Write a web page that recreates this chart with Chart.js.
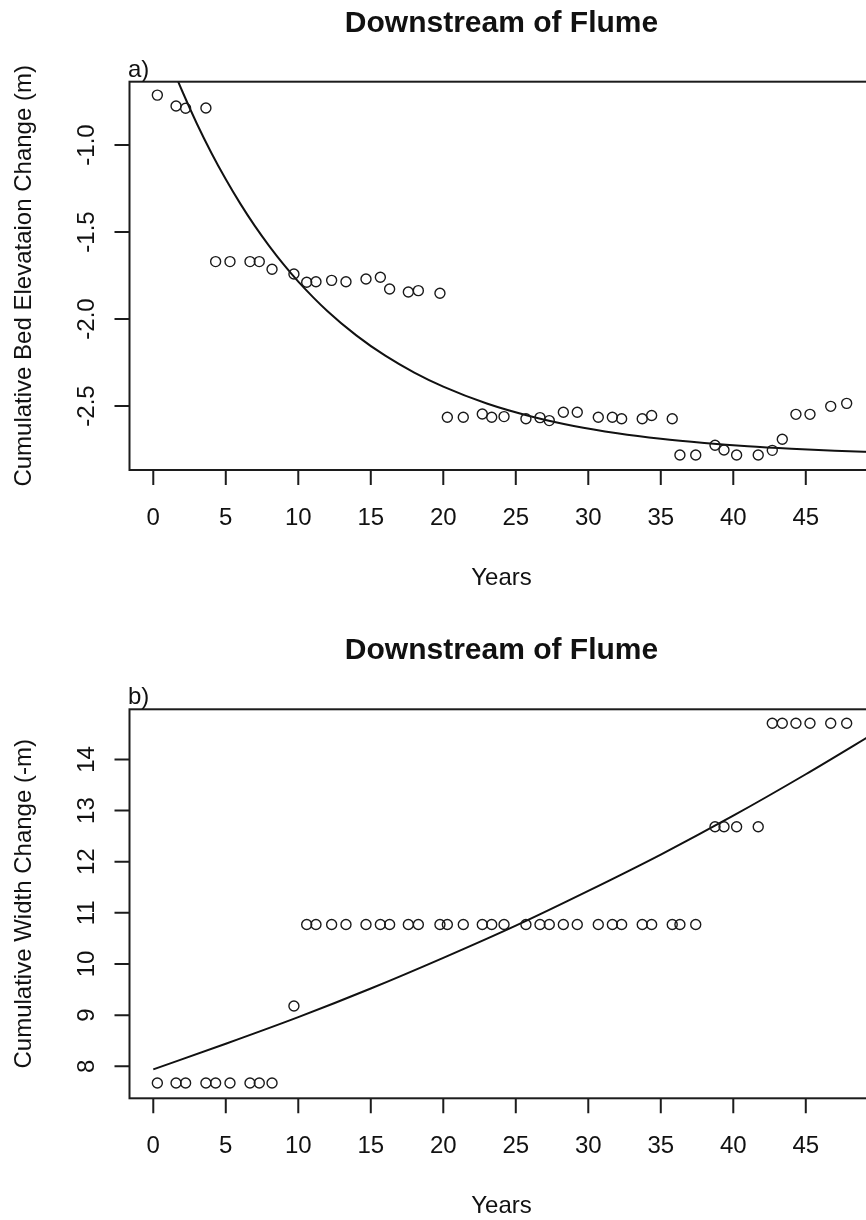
<!DOCTYPE html>
<html>
<head>
<meta charset="utf-8">
<script src="https://cdn.jsdelivr.net/npm/chart.js@4"></script>
<style>
html,body{margin:0;padding:0;background:#fff;overflow:hidden;width:866px;height:1220px;}
canvas{display:block;}
</style>
</head>
<body>
<canvas id="panelA" width="880" height="610"></canvas>
<canvas id="panelB" width="880" height="610"></canvas>
<script>
// ---- data ----
const years = [0.28,1.57,2.23,3.63,4.3,5.29,6.67,7.31,8.19,9.7,10.58,11.22,12.3,13.29,14.67,15.66,16.3,17.59,18.28,19.77,20.28,21.38,22.69,23.34,24.19,25.7,26.67,27.31,28.28,29.24,30.69,31.66,32.3,33.72,34.37,35.79,36.32,37.41,38.74,39.36,40.23,41.72,42.69,43.38,44.32,45.29,46.72,47.82];
const bedChange = [-0.713,-0.776,-0.789,-0.787,-1.67,-1.67,-1.67,-1.67,-1.714,-1.741,-1.789,-1.786,-1.778,-1.786,-1.77,-1.76,-1.828,-1.845,-1.837,-1.852,-2.565,-2.565,-2.546,-2.565,-2.561,-2.573,-2.567,-2.584,-2.536,-2.536,-2.565,-2.565,-2.573,-2.573,-2.555,-2.573,-2.782,-2.782,-2.726,-2.753,-2.782,-2.782,-2.755,-2.691,-2.548,-2.548,-2.502,-2.485];
const widthChange = [7.673,7.673,7.673,7.673,7.673,7.673,7.673,7.673,7.673,9.18,10.773,10.773,10.773,10.773,10.773,10.773,10.773,10.773,10.773,10.773,10.773,10.773,10.773,10.773,10.773,10.773,10.773,10.773,10.773,10.773,10.773,10.773,10.773,10.773,10.773,10.773,10.773,10.773,12.683,12.683,12.683,12.683,14.706,14.706,14.706,14.706,14.706,14.706];
const bedFitX = [0,1,2,3,4,5,6,7,8,9,10,12,14,16,18,20,23,26,29,32,35,38,41,44,47,50];
const bedFitY = [-0.267,-0.489,-0.691,-0.876,-1.044,-1.197,-1.337,-1.465,-1.581,-1.688,-1.785,-1.954,-2.094,-2.211,-2.308,-2.389,-2.486,-2.559,-2.615,-2.657,-2.689,-2.713,-2.732,-2.746,-2.757,-2.765];
const widthFitX = [0,5,10,15,20,25,30,35,40,45,50];
const widthFitY = [7.94,8.44,8.96,9.52,10.12,10.75,11.43,12.14,12.90,13.71,14.56];
const xTicks = [0,5,10,15,20,25,30,35,40,45];
const bedTicks = [-1.0,-1.5,-2.0,-2.5];
const bedTickLabels = ["-1.0","-1.5","-2.0","-2.5"];
const widthTicks = [8,9,10,11,12,13,14];
const widthTickLabels = ["8","9","10","11","12","13","14"];
const titleText = "Downstream of Flume";
const xTitle = "Years";
const bedTitle = "Cumulative Bed Elevataion Change (m)";
const widthTitle = "Cumulative Width Change (-m)";

const FONT = '"Liberation Sans", Arial, sans-serif';
const INK = '#111';

const framePlugin = {
  id: 'rframe',
  afterDraw(chart, args, o) {
    const {ctx, chartArea: ca, scales: {x, y}} = chart;
    ctx.save();
    // box
    ctx.strokeStyle = '#1c1c1c';
    ctx.lineWidth = 2;
    ctx.strokeRect(ca.left, ca.top, ca.right - ca.left, ca.bottom - ca.top);
    // ticks
    ctx.beginPath();
    o.xTicks.forEach(v => { const p = x.getPixelForValue(v); ctx.moveTo(p, ca.bottom); ctx.lineTo(p, ca.bottom + 15); });
    o.yTicks.forEach(v => { const p = y.getPixelForValue(v); ctx.moveTo(ca.left, p); ctx.lineTo(ca.left - 15, p); });
    ctx.stroke();
    // tick labels
    ctx.fillStyle = INK;
    ctx.font = '24px ' + FONT;
    ctx.textAlign = 'center';
    ctx.textBaseline = 'alphabetic';
    o.xTicks.forEach(v => ctx.fillText(String(v), x.getPixelForValue(v), ca.bottom + 55));
    o.yTicks.forEach((v, i) => {
      ctx.save();
      ctx.translate(ca.left - 36, y.getPixelForValue(v));
      ctx.rotate(-Math.PI / 2);
      ctx.fillText(o.yLabels[i], 0, 0);
      ctx.restore();
    });
    // axis titles
    ctx.fillText(o.xTitle, (ca.left + ca.right) / 2, ca.bottom + 115);
    ctx.save();
    ctx.translate(31, (ca.top + ca.bottom) / 2);
    ctx.rotate(-Math.PI / 2);
    ctx.fillText(o.yTitle, 0, 0);
    ctx.restore();
    // panel letter
    ctx.textAlign = 'left';
    ctx.fillText(o.letter, ca.left - 1.5, ca.top - 5);
    // main title
    ctx.textAlign = 'center';
    ctx.font = 'bold 30px ' + FONT;
    ctx.fillText(o.title, (ca.left + ca.right) / 2, ca.top - 50);
    ctx.restore();
  }
};

function makePanel(id, ys, fitX, fitY, yMin, yMax, pad, opts) {
  const pts = years.map((v, i) => ({x: v, y: ys[i]}));
  const fit = fitX.map((v, i) => ({x: v, y: fitY[i]}));
  return new Chart(document.getElementById(id), {
    type: 'scatter',
    data: {
      datasets: [
        {data: pts, showLine: false, pointStyle: 'circle', pointRadius: 5, pointBorderWidth: 1.4,
         pointBorderColor: '#1a1a1a', pointBackgroundColor: 'rgba(0,0,0,0)'},
        {data: fit, showLine: true, pointRadius: 0, borderColor: '#111', borderWidth: 2,
         cubicInterpolationMode: 'monotone', fill: false}
      ]
    },
    options: {
      responsive: false,
      animation: false,
      devicePixelRatio: 1,
      layout: {padding: pad},
      plugins: {legend: {display: false}, tooltip: {enabled: false}, title: {display: false}, rframe: opts},
      scales: {
        x: {type: 'linear', min: -1.64, max: 49.67, display: false},
        y: {type: 'linear', min: yMin, max: yMax, display: false}
      }
    },
    plugins: [framePlugin]
  });
}

makePanel('panelA', bedChange, bedFitX, bedFitY, -2.868, -0.636,
  {left: 129.5, right: 6.5, top: 81.7, bottom: 140},
  {xTicks: xTicks, yTicks: bedTicks, yLabels: bedTickLabels, xTitle: xTitle, yTitle: bedTitle, letter: 'a)', title: titleText});
makePanel('panelB', widthChange, widthFitX, widthFitY, 7.374, 14.98,
  {left: 129.5, right: 6.5, top: 99.3, bottom: 121.7},
  {xTicks: xTicks, yTicks: widthTicks, yLabels: widthTickLabels, xTitle: xTitle, yTitle: widthTitle, letter: 'b)', title: titleText});
</script>
</body>
</html>
